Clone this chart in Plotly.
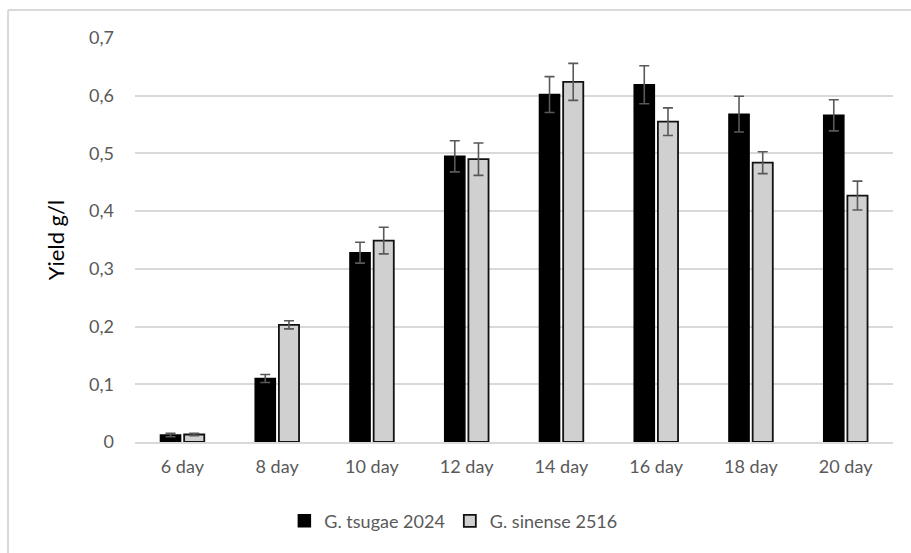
import plotly.graph_objects as go

days = ["6 day", "8 day", "10 day", "12 day", "14 day", "16 day", "18 day", "20 day"]
tsugae = [0.012, 0.110, 0.328, 0.495, 0.602, 0.619, 0.568, 0.566]
tsugae_err = [0.003, 0.007, 0.018, 0.027, 0.031, 0.033, 0.031, 0.027]
sinense = [0.013, 0.203, 0.349, 0.490, 0.624, 0.555, 0.484, 0.427]
sinense_err = [0.002, 0.007, 0.023, 0.028, 0.032, 0.024, 0.019, 0.025]
y_ticks = [0, 0.1, 0.2, 0.3, 0.4, 0.5, 0.6, 0.7]
y_tick_text = ["0", "0,1", "0,2", "0,3", "0,4", "0,5", "0,6", "0,7"]

err_style = dict(type="data", visible=True, color="#595959", thickness=1.6, width=5)

fig = go.Figure()
fig.add_trace(go.Bar(
    name="G. tsugae 2024", x=days, y=tsugae,
    error_y=dict(array=tsugae_err, **err_style),
    marker=dict(color="#000000", line=dict(color="#000000", width=1.5)),
))
fig.add_trace(go.Bar(
    name="G. sinense 2516", x=days, y=sinense,
    error_y=dict(array=sinense_err, **err_style),
    marker=dict(color="#d0d0d0", line=dict(color="#111111", width=1.8)),
))

# chart frame lines (top and left edges)
fig.add_shape(type="line", xref="paper", yref="paper",
              x0=-0.1675, x1=1.1, y0=1.069, y1=1.069,
              line=dict(color="#d9d9d9", width=2))
fig.add_shape(type="line", xref="paper", yref="paper",
              x0=-0.1675, x1=-0.1675, y0=1.069, y1=-0.3,
              line=dict(color="#d9d9d9", width=2))

fig.update_layout(
    width=911, height=553,
    margin=dict(l=135, r=18, t=38, b=111),
    paper_bgcolor="white", plot_bgcolor="white",
    barmode="group", bargap=0.5, bargroupgap=0.15,
    font=dict(family="Lato, 'Open Sans', sans-serif", color="#595959", size=18),
    showlegend=True,
    legend=dict(orientation="h", x=0.42, xanchor="center", y=-0.15, yanchor="top",
                font=dict(size=18, color="#595959"), itemwidth=30, traceorder="normal"),
    xaxis=dict(showgrid=False, showline=True, linecolor="#d9d9d9", linewidth=1.5,
               ticks="", tickfont=dict(size=18, color="#595959"), ticklabelstandoff=8),
    yaxis=dict(range=[0, 0.7], tickvals=y_ticks, ticktext=y_tick_text,
               showgrid=True, gridcolor="#d9d9d9", gridwidth=1.5, zeroline=False,
               showline=False, ticks="", tickfont=dict(size=18, color="#595959"),
               ticklabelstandoff=20,
               title=dict(text="Yield g/l", font=dict(size=22, color="#000000"), standoff=18)),
)

fig.write_html("out.html")
